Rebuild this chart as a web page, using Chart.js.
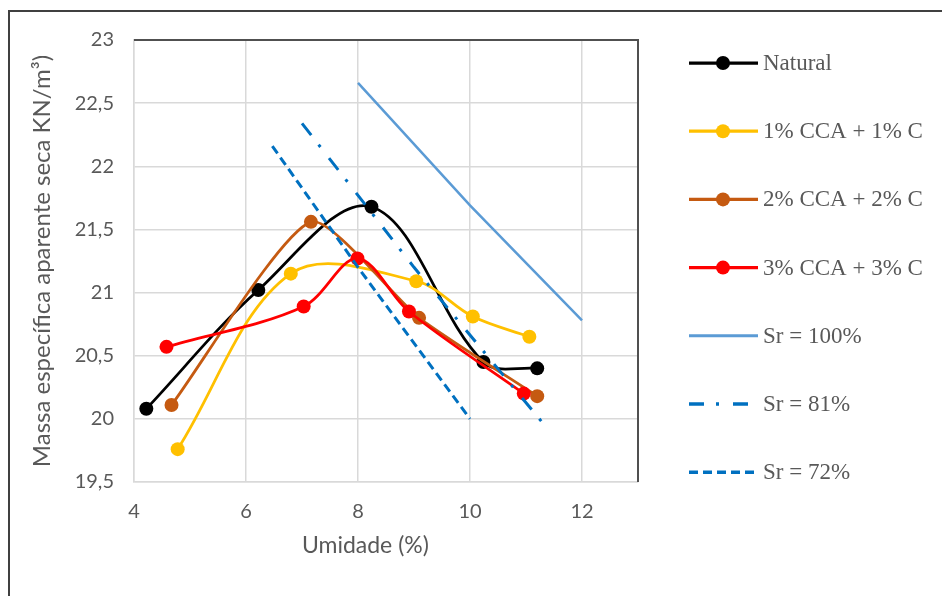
<!DOCTYPE html>
<html lang="pt">
<head>
  <meta charset="UTF-8" />
  <title>Compactação</title>
  <script src="https://cdn.jsdelivr.net/npm/chart.js"></script>
  <style>
    body {
      margin: 0;
      background: #ffffff;
    }

    #wrap {
      position: relative;
      width: 942px;
      height: 596px;
    }
  </style>
</head>
<body>
  <div id="wrap">
    <canvas id="chart" width="942" height="596"></canvas>
  </div>

  <script>
    // values
    const naturalX = [4.22, 6.22, 8.24, 10.24, 11.2];
    const naturalY = [20.08, 21.02, 21.68, 20.45, 20.40];

    const cca1X = [4.78, 6.80, 9.04, 10.05, 11.06];
    const cca1Y = [19.76, 21.15, 21.09, 20.81, 20.65];

    const cca2X = [4.67, 7.16, 9.09, 11.2];
    const cca2Y = [20.11, 21.56, 20.80, 20.18];

    const cca3X = [4.58, 7.03, 7.99, 8.91, 10.96];
    const cca3Y = [20.57, 20.89, 21.27, 20.85, 20.20];

    const sr100X = [8.0, 10.0, 12.0];
    const sr100Y = [22.66, 21.69, 20.78];

    const sr81X = [7.0, 9.0, 11.35];
    const sr81Y = [22.34, 21.20, 19.94];

    const sr72X = [6.47, 8.0, 10.0];
    const sr72Y = [22.16, 21.20, 20.00];

    const labels = ['Natural', '1% CCA + 1% C', '2% CCA + 2% C', '3% CCA + 3% C',
                    'Sr = 100%', 'Sr = 81%', 'Sr = 72%'];

    function pts(xs, ys) {
      return xs.map((x, i) => ({ x: x, y: ys[i] }));
    }

    function curve(label, xs, ys, color, order, tension) {
      return {
        label: label,
        data: pts(xs, ys),
        showLine: true,
        tension: tension,
        borderColor: color,
        backgroundColor: color,
        borderWidth: 2.75,
        pointRadius: 7,
        pointBorderWidth: 0,
        pointHoverRadius: 7,
        order: order
      };
    }

    function srLine(label, xs, ys, color, dash, width) {
      return {
        label: label,
        data: pts(xs, ys),
        showLine: true,
        tension: 0,
        borderColor: color,
        backgroundColor: color,
        borderWidth: width,
        borderDash: dash,
        pointRadius: 0,
        pointHoverRadius: 0,
        order: 0
      };
    }

    const datasets = [
      curve(labels[0], naturalX, naturalY, '#000000', 4, 0.35),
      curve(labels[1], cca1X, cca1Y, '#ffc000', 3, 0.35),
      curve(labels[2], cca2X, cca2Y, '#c55a11', 2, 0.2),
      curve(labels[3], cca3X, cca3Y, '#ff0000', 1, 0.33),
      srLine(labels[4], sr100X, sr100Y, '#5b9bd5', [], 2.5),
      srLine(labels[5], sr81X, sr81Y, '#0070c0', [15, 12, 3, 14], 3),
      srLine(labels[6], sr72X, sr72Y, '#0070c0', [9, 5], 3)
    ];

    // outer frame, dark top/right border of the plot, and the legend
    const extras = {
      id: 'extras',
      beforeDraw(chart) {
        const ctx = chart.ctx;
        ctx.save();
        ctx.fillStyle = '#ffffff';
        ctx.fillRect(0, 0, chart.width, chart.height);
        ctx.strokeStyle = '#404040';
        ctx.lineWidth = 2;
        ctx.beginPath();
        ctx.moveTo(9, chart.height);
        ctx.lineTo(9, 11);
        ctx.lineTo(chart.width, 11);
        ctx.stroke();
        ctx.restore();
      },
      afterDraw(chart) {
        const ctx = chart.ctx;
        const a = chart.chartArea;
        ctx.save();
        ctx.strokeStyle = '#505050';
        ctx.lineWidth = 2;
        ctx.beginPath();
        ctx.moveTo(a.left, a.top);
        ctx.lineTo(a.right, a.top);
        ctx.lineTo(a.right, a.bottom);
        ctx.stroke();

        chart.data.datasets.forEach((ds, i) => {
          const y = 63 + i * 68.2;
          ctx.strokeStyle = ds.borderColor;
          ctx.lineWidth = ds.borderWidth + 0.5;
          ctx.setLineDash(ds.borderDash || []);
          ctx.beginPath();
          ctx.moveTo(689, y);
          ctx.lineTo(758, y);
          ctx.stroke();
          ctx.setLineDash([]);
          if (ds.pointRadius > 0) {
            ctx.fillStyle = ds.backgroundColor;
            ctx.beginPath();
            ctx.arc(723, y, 7, 0, Math.PI * 2);
            ctx.fill();
          }
          ctx.fillStyle = '#595959';
          ctx.font = '23px "Liberation Serif"';
          ctx.textBaseline = 'middle';
          ctx.textAlign = 'left';
          ctx.fillText(ds.label, 763, y + 1);
        });
        ctx.restore();
      }
    };

    const tickFont = { family: 'Lato', size: 20 };

    new Chart(document.getElementById('chart'), {
      type: 'scatter',
      data: { datasets: datasets },
      plugins: [extras],
      options: {
        responsive: false,
        animation: false,
        layout: { padding: { left: 0, top: 40, right: 304, bottom: 0 } },
        plugins: {
          legend: { display: false },
          tooltip: { enabled: false }
        },
        scales: {
          x: {
            type: 'linear',
            min: 4,
            max: 13,
            afterFit(scale) { scale.height = 114; },
            ticks: {
              stepSize: 2,
              includeBounds: false,
              padding: 18,
              color: '#595959',
              font: tickFont
            },
            grid: { color: '#d9d9d9', lineWidth: 1.5, drawTicks: false },
            border: { color: '#d9d9d9', width: 1.5 },
            title: {
              display: true,
              text: 'Umidade (%)\u00a0\u00a0\u00a0\u00a0\u00a0\u00a0\u00a0',
              color: '#595959',
              font: { family: 'Lato', size: 23 },
              padding: { top: 37, bottom: 37 }
            }
          },
          y: {
            type: 'linear',
            min: 19.5,
            max: 23,
            afterFit(scale) { scale.width = 134; },
            ticks: {
              stepSize: 0.5,
              padding: 20,
              color: '#595959',
              font: tickFont,
              callback: v => Number.isInteger(v) ? String(v) : v.toFixed(1).replace('.', ',')
            },
            grid: { color: '#d9d9d9', lineWidth: 1.5, drawTicks: false },
            border: { color: '#d9d9d9', width: 1.5 },
            title: {
              display: true,
              text: 'Massa específica aparente seca KN/m³)',
              color: '#595959',
              font: { family: 'Lato', size: 24 },
              padding: { top: 28, bottom: 28 }
            }
          }
        }
      }
    });
  </script>
</body>
</html>
